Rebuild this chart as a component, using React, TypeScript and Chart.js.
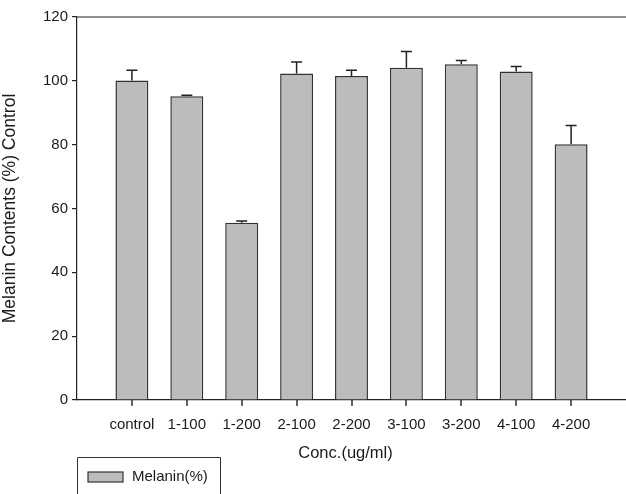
import React, { useEffect, useRef } from "react";
import { Chart, registerables } from "chart.js";

Chart.register(...registerables);

const categories = ["control", "1-100", "1-200", "2-100", "2-200", "3-100", "3-200", "4-100", "4-200"];
const melanin = [100.1, 95.2, 55.5, 102.3, 101.5, 104.1, 105.2, 102.9, 80.1];
const errors = [3.2, 0.3, 0.6, 3.6, 1.8, 5.1, 1.2, 1.6, 5.9];
const yTicks = [0, 20, 40, 60, 80, 100, 120];
const xTitle = "Conc.(ug/ml)";

const FONT = "'Liberation Sans', Arial, Helvetica, sans-serif";
const INK = "#1a1a1a";

const errorBarPlugin = {
  id: "errorBars",
  afterDatasetsDraw(chart: any) {
    const meta = chart.getDatasetMeta(0);
    const y = chart.scales.y;
    const ctx = chart.ctx;
    ctx.save();
    ctx.strokeStyle = "#222";
    ctx.lineWidth = 1.5;
    meta.data.forEach((bar: any, i: number) => {
      const top = y.getPixelForValue(melanin[i] + errors[i]);
      ctx.beginPath();
      ctx.moveTo(bar.x, bar.y);
      ctx.lineTo(bar.x, top);
      ctx.moveTo(bar.x - 5.5, top);
      ctx.lineTo(bar.x + 5.5, top);
      ctx.stroke();
    });
    ctx.restore();
  },
};

const frameLegendPlugin = {
  id: "frameLegend",
  afterDraw(chart: any) {
    const { ctx, chartArea } = chart;
    const xs = chart.scales.x;
    ctx.save();
    ctx.strokeStyle = "#222";
    ctx.lineWidth = 1.2;
    ctx.beginPath();
    ctx.moveTo(chartArea.left, chartArea.top);
    ctx.lineTo(chartArea.right, chartArea.top);
    ctx.stroke();
    // category tick marks below the x axis
    ctx.lineWidth = 1.3;
    ctx.strokeStyle = "#111";
    ctx.beginPath();
    categories.forEach((_, i) => {
      const px = Math.round(xs.getPixelForValue(i));
      ctx.moveTo(px, chartArea.bottom);
      ctx.lineTo(px, chartArea.bottom + 6);
    });
    ctx.stroke();
    // x axis title
    ctx.fillStyle = INK;
    ctx.font = `16.5px ${FONT}`;
    ctx.textAlign = "center";
    ctx.textBaseline = "middle";
    ctx.fillText(xTitle, (chartArea.left + chartArea.right) / 2 - 6, chartArea.bottom + 53);
    // legend
    const lx = chartArea.left;
    const ly = chartArea.bottom + 57;
    ctx.lineWidth = 1;
    ctx.strokeStyle = "#333";
    ctx.beginPath();
    ctx.moveTo(lx + 0.5, chart.height + 2);
    ctx.lineTo(lx + 0.5, ly + 0.5);
    ctx.lineTo(lx + 143.5, ly + 0.5);
    ctx.lineTo(lx + 143.5, chart.height + 2);
    ctx.stroke();
    const ds = chart.data.datasets[0];
    ctx.fillStyle = ds.backgroundColor;
    ctx.fillRect(lx + 11, ly + 15, 35, 10);
    ctx.strokeStyle = "#333";
    ctx.lineWidth = 1.2;
    ctx.strokeRect(lx + 11, ly + 15, 35, 10);
    ctx.fillStyle = INK;
    ctx.font = `15px ${FONT}`;
    ctx.textBaseline = "middle";
    ctx.textAlign = "left";
    ctx.fillText(ds.label, lx + 55, ly + 20);
    ctx.restore();
  },
};

export default function App() {
  const ref = useRef<HTMLCanvasElement>(null);
  useEffect(() => {
    document.body.style.margin = "0";
    document.body.style.overflow = "hidden";
    const chart = new Chart(ref.current!, {
      type: "bar",
      data: {
        datasets: [
          {
            label: "Melanin(%)",
            data: melanin.map((v, i) => ({ x: i, y: v })),
            backgroundColor: "#bcbcbc",
            borderColor: "#333333",
            borderWidth: 1.5,
            barPercentage: 0.6,
            categoryPercentage: 1,
          },
        ],
      },
      options: {
        responsive: false,
        animation: false,
        layout: { padding: { top: 17, right: 0, left: 0, bottom: 0 } },
        plugins: { legend: { display: false }, tooltip: { enabled: false } },
        scales: {
          x: {
            type: "linear",
            min: -1,
            max: 9,
            offset: false,
            afterBuildTicks(scale: any) {
              scale.ticks = categories.map((_, i) => ({ value: i }));
            },
            afterFit(scale: any) {
              scale.height = 94;
            },
            ticks: {
              autoSkip: false,
              maxRotation: 0,
              color: INK,
              font: { size: 15, family: FONT },
              padding: 8,
              callback: (v: any) => categories[v as number] ?? "",
            },
            grid: { display: false },
            border: { display: true, color: "#222", width: 1.2 },
            title: { display: false },
          },
          y: {
            min: 0,
            max: 120,
            afterBuildTicks(scale: any) {
              scale.ticks = yTicks.map((v) => ({ value: v }));
            },
            afterFit(scale: any) {
              scale.width = 77;
            },
            ticks: {
              color: INK,
              font: { size: 15, family: FONT },
              padding: 4,
            },
            grid: { display: true, drawOnChartArea: false, drawTicks: true, tickLength: 5, color: "#222", lineWidth: 1.2 },
            border: { display: true, color: "#222", width: 1.2 },
            title: {
              display: true,
              text: "Melanin Contents (%) Control",
              color: INK,
              font: { size: 17.5, family: FONT },
              padding: { top: 0, bottom: 0 },
            },
          },
        },
      },
      plugins: [errorBarPlugin, frameLegendPlugin],
    } as any);
    return () => chart.destroy();
  }, []);
  return (
    <div style={{ width: 626, height: 494 }}>
      <canvas ref={ref} width={626} height={494} style={{ display: "block" }} />
    </div>
  );
}
